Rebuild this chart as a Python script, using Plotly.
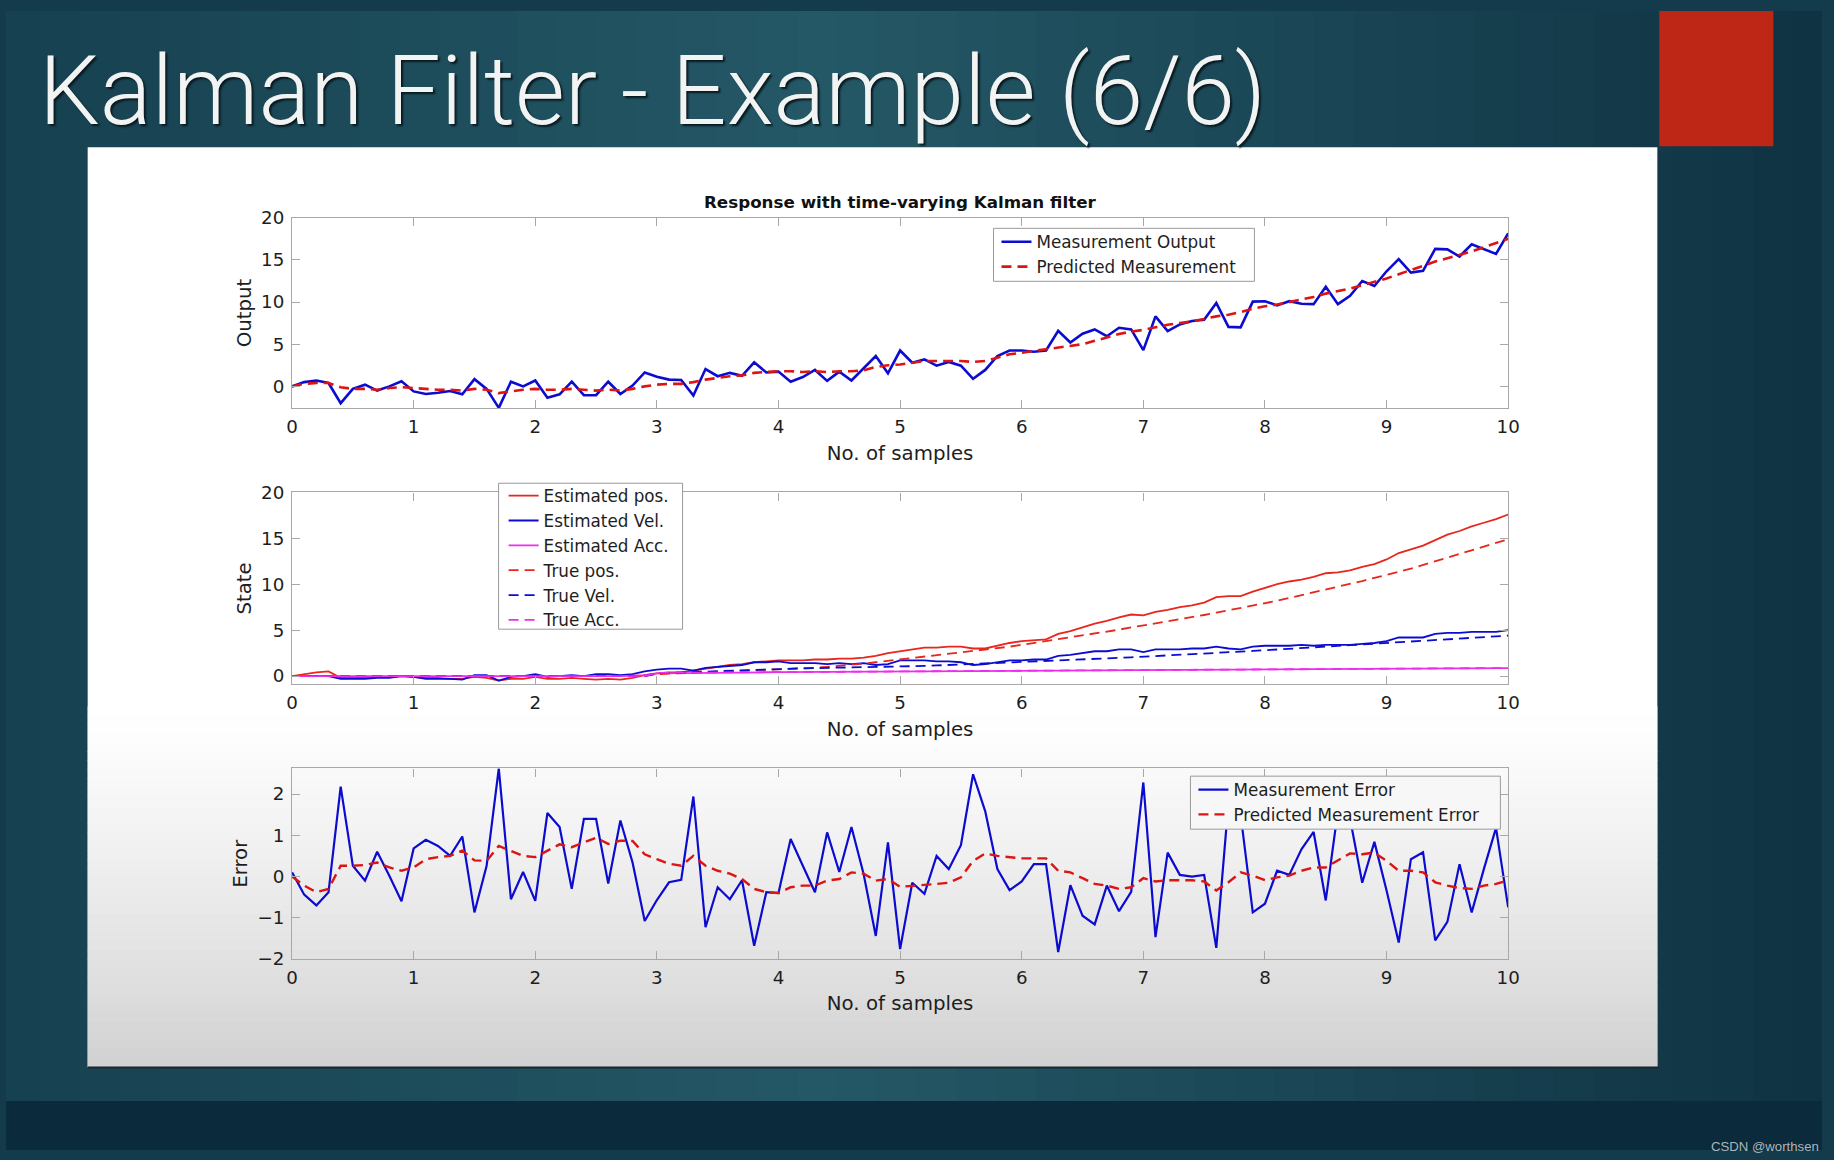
import plotly.graph_objects as go

# ---------------- data ----------------
t = [round(0.1 * i, 1) for i in range(101)]

meas_out = [0, 0.5, 0.7, 0.4, -2.0, -0.3, 0.2, -0.5, 0.0, 0.6,
            -0.6, -0.9, -0.75, -0.55, -0.95, 0.85, -0.3, -2.55, 0.55, 0.0,
            0.7, -1.35, -0.95, 0.55, -1.05, -1.05, 0.55, -0.9, 0.1, 1.65,
            1.15, 0.8, 0.75, -1.1, 2.05, 1.2, 1.6, 1.25, 2.85, 1.65,
            1.75, 0.55, 1.1, 1.95, 0.65, 1.75, 0.7, 2.1, 3.6, 1.55,
            4.25, 2.8, 3.2, 2.45, 2.9, 2.45, 0.9, 1.95, 3.6, 4.25,
            4.25, 4.1, 4.25, 6.6, 5.2, 6.25, 6.75, 5.95, 6.95, 6.75,
            4.3, 8.3, 6.55, 7.35, 7.75, 7.9, 9.9, 7.05, 7.0, 10.05,
            10.1, 9.6, 10.1, 9.8, 9.75, 11.8, 9.75, 10.75, 12.5, 11.9,
            13.65, 15.1, 13.5, 13.7, 16.3, 16.25, 15.4, 16.85, 16.25, 15.7,
            18.15]

pred_meas = [0, 0.3, 0.4, 0.4, -0.1, -0.3, -0.3, -0.4, -0.2, -0.1,
             -0.2, -0.3, -0.4, -0.4, -0.5, -0.3, -0.4, -0.8, -0.6, -0.4,
             -0.3, -0.4, -0.4, -0.3, -0.4, -0.5, -0.4, -0.5, -0.3, 0.0,
             0.2, 0.3, 0.3, 0.5, 0.8, 1.0, 1.2, 1.3, 1.6, 1.7,
             1.8, 1.8, 1.7, 1.8, 1.7, 1.8, 1.8, 1.9, 2.3, 2.5,
             2.6, 2.8, 3.0, 3.0, 3.0, 3.0, 2.9, 3.0, 3.4, 3.8,
             4.0, 4.2, 4.4, 4.6, 4.8, 5.0, 5.4, 5.8, 6.2, 6.5,
             6.7, 7.0, 7.3, 7.5, 7.7, 8.0, 8.3, 8.5, 8.8, 9.2,
             9.5, 9.7, 10.0, 10.3, 10.6, 11.0, 11.3, 11.6, 12.0, 12.4,
             12.8, 13.3, 13.8, 14.3, 14.8, 15.2, 15.6, 16.0, 16.5, 17.0,
             17.5]

est_pos = [0, 0.2, 0.4, 0.5, -0.2, -0.2, -0.2, -0.1, -0.1, 0.0,
           -0.1, -0.2, -0.2, -0.3, -0.3, -0.1, -0.2, -0.5, -0.3, -0.3,
           -0.1, -0.3, -0.3, -0.2, -0.3, -0.4, -0.3, -0.4, -0.2, 0.1,
           0.3, 0.4, 0.4, 0.6, 0.8, 1.0, 1.2, 1.3, 1.5, 1.6,
           1.7, 1.7, 1.7, 1.8, 1.8, 1.9, 1.9, 2.0, 2.2, 2.5,
           2.7, 2.9, 3.1, 3.1, 3.2, 3.2, 3.0, 3.0, 3.3, 3.6,
           3.8, 3.9, 4.0, 4.6, 4.9, 5.3, 5.7, 6.0, 6.4, 6.7,
           6.6, 7.0, 7.2, 7.5, 7.7, 8.0, 8.6, 8.7, 8.7, 9.2,
           9.6, 10.0, 10.3, 10.5, 10.8, 11.2, 11.3, 11.5, 11.9, 12.2,
           12.7, 13.4, 13.8, 14.2, 14.8, 15.4, 15.8, 16.3, 16.7, 17.1,
           17.6]

est_vel = [0, 0, 0, 0, -0.3, -0.3, -0.3, -0.2, -0.2, 0.0,
           -0.1, -0.3, -0.3, -0.3, -0.4, 0.1, 0.1, -0.5, -0.1, 0.0,
           0.2, -0.1, 0.0, 0.1, 0.0, 0.2, 0.2, 0.1, 0.2, 0.5,
           0.7, 0.8, 0.8, 0.6, 0.9, 1.0, 1.1, 1.2, 1.5, 1.5,
           1.6, 1.4, 1.4, 1.4, 1.3, 1.4, 1.3, 1.4, 1.2, 1.3,
           1.7, 1.7, 1.7, 1.6, 1.6, 1.5, 1.2, 1.3, 1.5, 1.7,
           1.7, 1.8, 1.8, 2.2, 2.3, 2.5, 2.7, 2.7, 2.9, 2.9,
           2.6, 2.9, 2.9, 2.9, 3.0, 3.0, 3.2, 3.0, 2.9, 3.2,
           3.3, 3.3, 3.3, 3.4, 3.3, 3.4, 3.4, 3.4, 3.5, 3.6,
           3.8, 4.2, 4.2, 4.2, 4.6, 4.7, 4.7, 4.8, 4.8, 4.8,
           5.0]

est_acc = [0.0, 0.0, 0.0, 0.0, -0.05, -0.05, -0.05, -0.05, -0.05, 0.0,
           0.0, -0.05, -0.05, -0.05, -0.05, 0.0, 0.0, -0.05, 0.0, 0.0,
           0.0, 0.0, 0.0, 0.0, 0.0, 0.0, 0.0, 0.0, 0.05, 0.1,
           0.3, 0.32, 0.33, 0.34, 0.35, 0.36, 0.37, 0.38, 0.4, 0.41,
           0.42, 0.43, 0.43, 0.44, 0.45, 0.46, 0.46, 0.47, 0.48, 0.49,
           0.50, 0.50, 0.51, 0.52, 0.53, 0.53, 0.54, 0.55, 0.56, 0.56,
           0.57, 0.58, 0.59, 0.59, 0.60, 0.61, 0.62, 0.62, 0.63, 0.64,
           0.64, 0.65, 0.66, 0.67, 0.67, 0.68, 0.69, 0.70, 0.70, 0.71,
           0.72, 0.73, 0.73, 0.74, 0.75, 0.76, 0.76, 0.77, 0.78, 0.79,
           0.80, 0.80, 0.81, 0.82, 0.83, 0.83, 0.84, 0.85, 0.86, 0.86,
           0.87]

true_pos = [0] * 30 + [
    0.2, 0.25, 0.3, 0.35, 0.4, 0.45, 0.5, 0.55, 0.6, 0.65,
    0.7, 0.75, 0.8, 0.9, 1.0, 1.1, 1.2, 1.35, 1.5, 1.65,
    1.8, 1.95, 2.1, 2.25, 2.4, 2.55, 2.7, 2.85, 3.0, 3.2,
    3.4, 3.6, 3.8, 4.0, 4.2, 4.45, 4.65, 4.85, 5.05, 5.3,
    5.5, 5.7, 5.95, 6.2, 6.4, 6.65, 6.9, 7.15, 7.4, 7.65,
    7.9, 8.2, 8.5, 8.8, 9.1, 9.4, 9.7, 10.0, 10.35, 10.7,
    11.0, 11.35, 11.7, 12.1, 12.5, 12.9, 13.3, 13.7, 14.1, 14.5,
    14.9]

true_vel = [0] * 30 + [
    0.3, 0.35, 0.4, 0.45, 0.5, 0.55, 0.6, 0.65, 0.7, 0.75,
    0.8, 0.82, 0.84, 0.86, 0.88, 0.9, 0.92, 0.94, 0.96, 0.98,
    1.0, 1.05, 1.1, 1.15, 1.2, 1.25, 1.3, 1.35, 1.4, 1.45,
    1.5, 1.56, 1.62, 1.68, 1.74, 1.8, 1.86, 1.92, 1.98, 2.04,
    2.1, 2.17, 2.24, 2.31, 2.38, 2.45, 2.52, 2.59, 2.66, 2.73,
    2.8, 2.88, 2.96, 3.04, 3.12, 3.2, 3.28, 3.36, 3.44, 3.52,
    3.6, 3.68, 3.76, 3.84, 3.92, 4.0, 4.08, 4.16, 4.24, 4.32,
    4.4]

true_acc = [0] * 30 + [
    0.35, 0.35, 0.36, 0.37, 0.38, 0.39, 0.39, 0.40, 0.41, 0.42,
    0.42, 0.43, 0.44, 0.45, 0.45, 0.46, 0.47, 0.48, 0.48, 0.49,
    0.50, 0.51, 0.51, 0.52, 0.53, 0.54, 0.54, 0.55, 0.56, 0.57,
    0.57, 0.58, 0.59, 0.60, 0.60, 0.61, 0.62, 0.63, 0.63, 0.64,
    0.65, 0.66, 0.66, 0.67, 0.68, 0.69, 0.69, 0.70, 0.71, 0.72,
    0.72, 0.73, 0.74, 0.75, 0.75, 0.76, 0.77, 0.78, 0.78, 0.79,
    0.80, 0.81, 0.81, 0.82, 0.83, 0.84, 0.84, 0.85, 0.86, 0.87,
    0.87]

meas_err = [0.1, -0.44, -0.7, -0.38, 2.18, 0.26, -0.1, 0.6, 0.02, -0.6,
            0.68, 0.89, 0.74, 0.5, 0.97, -0.87, 0.26, 2.62, -0.55, 0.11,
            -0.59, 1.54, 1.2, -0.3, 1.4, 1.4, -0.17, 1.36, 0.34, -1.08,
            -0.57, -0.14, -0.08, 1.94, -1.23, -0.26, -0.55, -0.09, -1.68, -0.38,
            -0.4, 0.91, 0.26, -0.38, 1.07, 0.11, 1.2, 0.06, -1.44, 0.83,
            -1.76, -0.15, -0.42, 0.5, 0.18, 0.76, 2.48, 1.58, 0.18, -0.33,
            -0.12, 0.3, 0.3, -1.83, -0.21, -0.95, -1.16, -0.22, -0.84, -0.37,
            2.28, -1.47, 0.58, 0.04, 0.0, 0.04, -1.73, 1.8, 1.5, -0.87,
            -0.66, 0.14, 0.04, 0.66, 1.08, -0.58, 1.6, 1.4, -0.15, 0.84,
            -0.34, -1.6, 0.42, 0.59, -1.55, -1.1, 0.3, -0.87, 0.18, 1.18,
            -0.75]

pred_err = [0, -0.22, -0.38, -0.3, 0.26, 0.26, 0.28, 0.34, 0.22, 0.14,
            0.22, 0.42, 0.47, 0.5, 0.63, 0.39, 0.38, 0.74, 0.62, 0.5,
            0.47, 0.62, 0.78, 0.71, 0.82, 0.94, 0.79, 0.87, 0.86, 0.54,
            0.42, 0.31, 0.26, 0.5, 0.26, 0.14, 0.07, -0.06, -0.3, -0.38,
            -0.4, -0.26, -0.22, -0.22, -0.1, -0.06, 0.1, 0.07, -0.1, -0.06,
            -0.25, -0.23, -0.21, -0.18, -0.15, -0.02, 0.38, 0.56, 0.5, 0.47,
            0.44, 0.44, 0.44, 0.14, 0.1, -0.04, -0.18, -0.22, -0.3, -0.26,
            -0.04, -0.12, -0.09, -0.09, -0.09, -0.12, -0.34, -0.14, 0.1, 0.02,
            -0.09, -0.02, 0.02, 0.14, 0.22, 0.22, 0.38, 0.56, 0.54, 0.58,
            0.38, 0.14, 0.14, 0.1, -0.14, -0.22, -0.28, -0.3, -0.22, -0.18,
            -0.09]

x_ticks = list(range(0, 11))
y_ticks_top = [0, 5, 10, 15, 20]
y_ticks_mid = [0, 5, 10, 15, 20]
y_ticks_bot = [-2, -1, 0, 1, 2]

# ---------------- geometry helpers ----------------
# Positions are taken in the reference picture's pixel frame and mapped to the page,
# compensating the small scale/offset seen between the page and its photograph.
W, H = 1834, 1160
SX, OX = 0.9904, 6.3
SY, OY = 0.9822, 9.6
def px(x):
    return ((x - OX) / SX) / W
def py(y):
    return 1 - ((y - OY) / SY) / H
FS = 1.0 / 0.986   # font compensation

BLUE = "#0c0cd0"
RED = "#dc1414"
RED2 = "#e8261c"
MAG = "#ee2cee"
DASH = "10px,6px"
FONT = "DejaVu Sans"

fig = go.Figure()

# top plot
fig.add_trace(go.Scatter(x=t, y=meas_out, mode="lines", name="Measurement Output",
                         line=dict(color=BLUE, width=2.6), xaxis="x", yaxis="y", legend="legend"))
fig.add_trace(go.Scatter(x=t, y=pred_meas, mode="lines", name="Predicted Measurement",
                         line=dict(color=RED, width=2.6, dash=DASH), xaxis="x", yaxis="y", legend="legend"))

# middle plot
for name, ys, col, dash in [("Estimated pos.", est_pos, RED2, "solid"),
                            ("Estimated Vel.", est_vel, BLUE, "solid"),
                            ("Estimated Acc.", est_acc, MAG, "solid"),
                            ("True pos.", true_pos, RED2, DASH),
                            ("True Vel.", true_vel, BLUE, DASH),
                            ("True Acc.", true_acc, MAG, DASH)]:
    fig.add_trace(go.Scatter(x=t, y=ys, mode="lines", name=name,
                             line=dict(color=col, width=1.8, dash=dash),
                             xaxis="x2", yaxis="y2", legend="legend2"))

# bottom plot
fig.add_trace(go.Scatter(x=t, y=meas_err, mode="lines", name="Measurement Error",
                         line=dict(color=BLUE, width=2.2), xaxis="x3", yaxis="y3", legend="legend3"))
fig.add_trace(go.Scatter(x=t, y=pred_err, mode="lines", name="Predicted Measurement Error",
                         line=dict(color=RED, width=2.4, dash=DASH), xaxis="x3", yaxis="y3", legend="legend3"))

AX_X0, AX_X1 = 292.4, 1508.8
boxes = {"top": (216.4, 407.0), "mid": (491.2, 683.1), "bot": (767.3, 957.9)}

tickfont = dict(family=FONT, size=18 * FS, color="#1e1e1e")
titlefont = dict(family=FONT, size=19.5 * FS, color="#1e1e1e")

def xax(anchor):
    return dict(domain=[px(AX_X0), px(AX_X1)], anchor=anchor, range=[0, 10],
                tickvals=x_ticks, ticks="inside", ticklen=8, tickcolor="#a8a8a8",
                showline=True, linecolor="#a8a8a8", linewidth=1.2, mirror="ticks",
                showgrid=False, zeroline=False, tickfont=tickfont, ticklabelstandoff=2,
                title=dict(text="No. of samples", font=titlefont, standoff=9))

def yax(anchor, y0y1, rng, tv, title):
    return dict(domain=[py(y0y1[1]), py(y0y1[0])], anchor=anchor, range=rng,
                tickvals=tv, ticks="inside", ticklen=8, tickcolor="#a8a8a8",
                showline=True, linecolor="#a8a8a8", linewidth=1.2, mirror="ticks",
                showgrid=False, zeroline=False, tickfont=tickfont, ticklabelstandoff=3,
                title=dict(text=title, font=titlefont, standoff=4))

# ---------------- background decoration ----------------
shapes = []
def lerp(c0, c1, f):
    return tuple(int(round(a + (b - a) * f)) for a, b in zip(c0, c1))

left_c, mid_c, right_c = (22, 64, 80), (36, 88, 102), (15, 50, 66)
n = 46
for i in range(n):
    f = (i + 0.5) / n
    if f < 0.45:
        c = lerp(left_c, mid_c, f / 0.45)
    else:
        c = lerp(mid_c, right_c, (f - 0.45) / 0.55)
    shapes.append(dict(type="rect", xref="paper", yref="paper",
                       x0=max(0, px(i * W / n)), x1=min(1, px((i + 1) * W / n) + 0.001),
                       y0=py(1100), y1=1, fillcolor="rgb(%d,%d,%d)" % c,
                       line=dict(width=0), layer="below"))
shapes.append(dict(type="rect", xref="paper", yref="paper", x0=0, x1=1,
                   y0=0, y1=py(1100), fillcolor="#0b2a3b", line=dict(width=0), layer="below"))
# white figure panel
shapes.append(dict(type="rect", xref="paper", yref="paper", x0=px(88), x1=px(1658),
                   y0=py(1066), y1=py(146), fillcolor="#ffffff", line=dict(width=0), layer="below"))
g0, g1 = 705, 1066
ng = 40
for i in range(ng):
    ya = g0 + (g1 - g0) * i / ng
    yb = g0 + (g1 - g0) * (i + 1) / ng
    f = (i + 0.5) / ng
    v = int(round(255 - 46 * f ** 1.25))
    shapes.append(dict(type="rect", xref="paper", yref="paper", x0=px(88), x1=px(1658),
                       y0=py(yb + 0.6), y1=py(ya), fillcolor="rgb(%d,%d,%d)" % (v, v, v),
                       line=dict(width=0), layer="below"))
shapes.append(dict(type="line", xref="paper", yref="paper", x0=px(88), x1=px(1659),
                   y0=py(1066.5), y1=py(1066.5), line=dict(color="#1b262c", width=2), layer="below"))
# red accent block
shapes.append(dict(type="rect", xref="paper", yref="paper", x0=px(1660), x1=px(1774),
                   y0=py(145), y1=1, fillcolor="#be2616", line=dict(width=0), layer="below"))

# opaque legend boxes (MATLAB style), drawn above the traces; the legend text sits on top
legend_boxes = [((994, 227), (1255, 280), "#ffffff"),
                ((499, 482), (683, 628), "#ffffff"),
                ((1191, 775), (1501, 828), "#f7f7f7")]
for (bx0, by0), (bx1, by1), bg in legend_boxes:
    shapes.append(dict(type="rect", xref="paper", yref="paper", x0=px(bx0), x1=px(bx1),
                       y0=py(by1), y1=py(by0), fillcolor=bg,
                       line=dict(color="#9a9a9a", width=1), layer="above"))

annotations = [
    dict(text="Kalman Filter - Example (6/6)", xref="paper", yref="paper",
         x=px(37), y=py(90), xanchor="left", yanchor="middle", showarrow=False,
         font=dict(family="Roboto, sans-serif", size=95 * FS, weight=300, color="#f2f4f4",
                   shadow="2px 2px 2px #0a1a20")),
    dict(text="<b>Response with time-varying Kalman filter</b>", xref="paper", yref="paper",
         x=px((AX_X0 + AX_X1) / 2), y=py(201), xanchor="center", yanchor="middle", showarrow=False,
         font=dict(family=FONT, size=16.5 * FS, color="#111111")),
    dict(text="CSDN @worthsen", xref="paper", yref="paper", x=px(1822), y=py(1145),
         xanchor="right", yanchor="middle", showarrow=False,
         font=dict(family="Liberation Sans", size=13 * FS, color="#aab6ba")),
]

legfont = dict(family=FONT, size=16.8, color="#1e1e1e")
def leg(x, y):
    return dict(x=px(x), y=py(y), xanchor="left", yanchor="top", xref="paper", yref="paper",
                bgcolor="rgba(0,0,0,0)", borderwidth=0, font=legfont,
                tracegroupgap=0, itemwidth=30, traceorder="normal")

fig.update_layout(
    autosize=True,
    margin=dict(l=0, r=0, t=0, b=0, pad=0),
    paper_bgcolor="#143b4b", plot_bgcolor="rgba(0,0,0,0)",
    showlegend=True,
    xaxis=xax("y"),
    yaxis=yax("x", boxes["top"], [-2.6, 20], y_ticks_top, "Output"),
    xaxis2=xax("y2"),
    yaxis2=yax("x2", boxes["mid"], [-0.9, 20], y_ticks_mid, "State"),
    xaxis3=xax("y3"),
    yaxis3=yax("x3", boxes["bot"], [-2.0, 2.62], y_ticks_bot, "Error"),
    legend=leg(997, 223),
    legend2=leg(504, 477),
    legend3=leg(1194, 771),
    shapes=shapes,
    annotations=annotations,
)

fig.write_html(
    "out.html",
    config={"displayModeBar": False, "responsive": True},
    default_width="100vw", default_height="100vh",
    post_script=("document.documentElement.style.margin='0';"
                 "document.documentElement.style.background='#163f4f';"
                 "document.body.style.margin='0';document.body.style.padding='0';"
                 "document.body.style.background='#163f4f';document.body.style.overflow='hidden';"
                 "var gd=document.getElementById('{plot_id}');"
                 "gd.style.width='100vw';gd.style.height='100vh';"
                 "Plotly.Plots.resize(gd);"),
)
